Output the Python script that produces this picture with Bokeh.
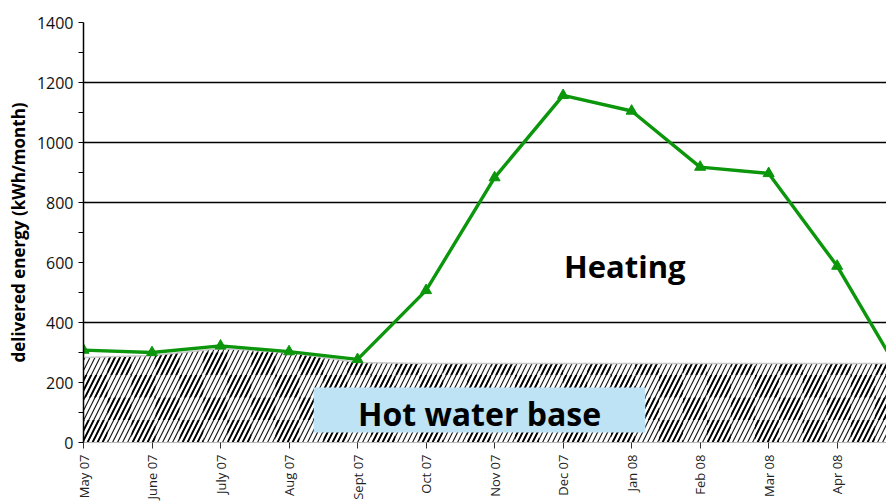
import math
import numpy as np
from bokeh.plotting import figure
from bokeh.models import Range1d, FixedTicker, Label
from bokeh.embed import file_html
from bokeh.resources import INLINE

# ---- data ----
months = ["May 07", "June 07", "July 07", "Aug 07", "Sept 07", "Oct 07", "Nov 07",
          "Dec 07", "Jan 08", "Feb 08", "Mar 08", "Apr 08", "May 08"]
total_energy = [308, 300, 322, 303, 277, 507, 883, 1157, 1105, 918, 897, 588, 200]
hot_water_base = [283, 290, 313, 300, 267, 263, 263, 263, 263, 263, 263, 263, 263]
y_ticks = [0, 200, 400, 600, 800, 1000, 1200, 1400]
y_minor = [100, 300, 500, 700, 900, 1100, 1300]
grid_levels = [400, 800, 1000, 1200]
shown_months = months[:12]

x_idx = list(range(len(months)))
GREEN = "#0b960b"
FONT = "Open Sans"

p = figure(width=886, height=504, output_backend="svg", toolbar_location=None,
           x_range=Range1d(0, 11.72), y_range=Range1d(0, 1400),
           min_border_left=83, min_border_right=0, min_border_top=22,
           min_border_bottom=62)
p.outline_line_color = None
p.background_fill_color = "white"

# hatched hot water base: thin diagonal lines everywhere ...
p.varea(x=x_idx, y1=[0] * len(x_idx), y2=hot_water_base, fill_color="white",
        hatch_pattern="/", hatch_color="#1a1a1a", hatch_weight=1.2, hatch_scale=10)
# ... and a checkerboard of heavier lines (decorative texture of the fill)
cell_w, cell_h = 0.35, 75.0
xs, ys = [], []
for ci, c0 in enumerate(np.arange(0, 12.0, cell_w)):
    c1 = c0 + cell_w
    for ri in range(4):
        if (ci + ri) % 2:
            continue
        r0, r1 = ri * cell_h, (ri + 1) * cell_h
        t0 = min(r1, float(np.interp(c0, x_idx, hot_water_base)))
        t1 = min(r1, float(np.interp(c1, x_idx, hot_water_base)))
        if t0 <= r0 and t1 <= r0:
            continue
        xs.append([c0, c1, c1, c0])
        ys.append([r0, r0, max(t1, r0), max(t0, r0)])
p.patches(xs=xs, ys=ys, fill_alpha=0, line_color=None,
          hatch_pattern="/", hatch_color="black", hatch_weight=1.9, hatch_scale=10)
p.line(x=x_idx, y=hot_water_base, line_color="#c8c8c8", line_width=1.5)

# heating line
p.line(x=x_idx, y=total_energy, line_color=GREEN, line_width=3.4)
p.scatter(x=x_idx, y=total_energy, marker="triangle", size=11,
          fill_color=GREEN, line_color=GREEN)

# hot water box
p.quad(left=[3.36], right=[8.2], bottom=[33], top=[183],
       fill_color="#bde3f5", line_color=None)
p.add_layout(Label(x=5.78, y=96, text="Hot water base", text_align="center",
                   text_baseline="alphabetic", text_font=FONT, text_font_style="bold",
                   text_font_size="32px", text_color="black"))
p.add_layout(Label(x=7.9, y=587, text="Heating", text_align="center",
                   text_baseline="alphabetic", text_font=FONT, text_font_style="bold",
                   text_font_size="31px", text_color="black"))

# y axis
ya = p.yaxis[0]
ya.ticker = FixedTicker(ticks=y_ticks, minor_ticks=y_minor)
ya.axis_line_color = "black"
ya.axis_line_width = 1.5
ya.major_tick_out = 5
ya.major_tick_in = 0
ya.minor_tick_out = 5
ya.minor_tick_in = 0
ya.major_tick_line_color = "black"
ya.minor_tick_line_color = "black"
ya.major_label_text_font = FONT
ya.major_label_text_font_size = "16px"
ya.major_label_text_color = "#111111"
ya.major_label_standoff = 5
ya.axis_label = "delivered energy (kWh/month)"
ya.axis_label_text_font = FONT
ya.axis_label_text_font_style = "bold"
ya.axis_label_text_font_size = "17px"
ya.axis_label_text_color = "black"
ya.axis_label_standoff = 4

# x axis
xa = p.xaxis[0]
xa.ticker = FixedTicker(ticks=list(range(len(shown_months))), minor_ticks=[])
xa.major_label_overrides = {i: m for i, m in enumerate(shown_months)}
xa.major_label_orientation = math.pi / 2
xa.axis_line_color = "#bbbbbb"
xa.major_tick_out = 6
xa.major_tick_in = 0
xa.major_tick_line_color = "#333333"
xa.major_label_standoff = 6
xa.major_label_text_font = FONT
xa.major_label_text_font_size = "13px"
xa.major_label_text_color = "#222222"

# grid
p.xgrid.visible = False
p.ygrid.ticker = FixedTicker(ticks=grid_levels)
p.ygrid.grid_line_color = "black"
p.ygrid.grid_line_width = 1.5

open("out.html", "w").write(file_html(p, INLINE))
